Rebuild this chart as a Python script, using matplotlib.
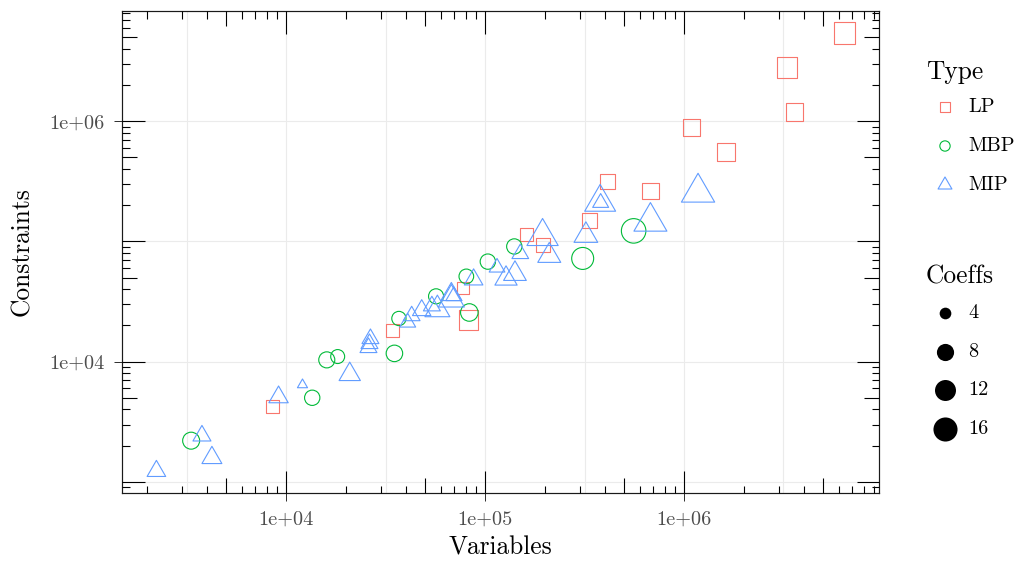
import numpy as np
import matplotlib
matplotlib.use("Agg")
import matplotlib.pyplot as plt
from matplotlib.path import Path
from matplotlib.collections import LineCollection
from matplotlib.ticker import FixedLocator, NullFormatter

# ---- data -----------------------------------------------------------------
lp_vars = [8560, 34070, 77450, 82330, 161600, 194500, 333700, 412400, 678100,
           1092000, 1622000, 3306000, 3589000, 6422000]
lp_cons = [4272, 18260, 41200, 22230, 113400, 93180, 148300, 314800, 265000,
           888300, 557200, 2805000, 1197000, 5437000]
lp_coef = [5.9, 5.9, 5.3, 13.2, 5.9, 6.8, 7.6, 7.1, 9.0, 10.3, 10.6, 14.4, 10.7, 16.7]

mbp_vars = [3325, 13510, 15990, 18140, 34990, 36860, 56680, 80460, 83290,
            103200, 140200, 309500, 558300]
mbp_cons = [2201, 5007, 10350, 11030, 11720, 22870, 34970, 51230, 25660,
            67990, 90880, 72260, 122500]
mbp_coef = [7.8, 6.4, 7.0, 5.4, 7.4, 5.6, 6.2, 5.9, 8.3, 6.4, 6.4, 13.2, 16.6]

mip_vars = [2224, 3768, 4229, 9149, 12070, 20860, 26510, 26210, 25910, 40800,
            42730, 47990, 53990, 57540, 67640, 69630, 67640, 87520, 114800, 127400,
            141300, 150300, 194500, 210200, 321200, 378900, 381100, 678100, 1177000]
mip_cons = [1229, 2417, 1585, 5065, 6419, 7832, 15520, 14110, 13070, 21190,
            24040, 26760, 29050, 27160, 36180, 35160, 32890, 48200, 60730, 49040,
            53740, 79060, 110000, 76090, 112100, 211900, 209900, 146300, 255600]
mip_coef = [5.3, 5.0, 6.0, 5.7, 2.4, 6.8, 4.5, 4.5, 4.5, 4.1,
            4.4, 5.2, 4.5, 9.3, 6.6, 4.1, 10.1, 5.3, 4.0, 7.4,
            7.7, 4.4, 14.8, 7.9, 8.4, 14.5, 4.1, 16.6, 16.9]

type_labels = ["LP", "MBP", "MIP"]
type_colors = ["#F8766D", "#00BA38", "#619CFF"]
coef_breaks = [4, 8, 12, 16]
coef_limits = (2, 17)

x_breaks = [1e4, 1e5, 1e6]
x_labels = ["1e+04", "1e+05", "1e+06"]
y_breaks = [1e4, 1e6]
y_labels = ["1e+04", "1e+06"]

# ---- style ----------------------------------------------------------------
plt.rcParams['font.family'] = 'serif'
plt.rcParams['font.serif'] = ['cmr10', 'DejaVu Serif']
plt.rcParams['axes.unicode_minus'] = False

DPI = 100
PT = 72.0 / DPI          # points per pixel
W, H = 1018, 563
AX_L, AX_R, AX_T, AX_B = 122, 879, 11, 493
AX_W, AX_H = AX_R - AX_L, AX_B - AX_T

# equilateral open triangle centred on its circumcentre
tri = Path([(0, 1), (-0.8660254, -0.5), (0.8660254, -0.5), (0, 1)],
           [Path.MOVETO, Path.LINETO, Path.LINETO, Path.CLOSEPOLY])
markers = ['s', 'o', tri]
shape_factor = [0.8862, 1.0, 1.555]   # marker extent relative to dot diameter


def dot_diameter_px(c):
    c = np.asarray(c, dtype=float)
    t = (c - coef_limits[0]) / (coef_limits[1] - coef_limits[0])
    return 4.13 * (1 + 5 * np.sqrt(np.clip(t, 0, 1)))


fig = plt.figure(figsize=(W / DPI, H / DPI), dpi=DPI)
ax = fig.add_axes([AX_L / W, 1 - AX_B / H, AX_W / W, AX_H / H])
ax.set_xscale('log')
ax.set_yscale('log')

series = [(lp_vars, lp_cons, lp_coef), (mbp_vars, mbp_cons, mbp_coef),
          (mip_vars, mip_cons, mip_coef)]
for (xv, yv, cv), mk, sf, col in zip(series, markers, shape_factor, type_colors):
    s = (dot_diameter_px(cv) * sf * PT) ** 2
    ax.scatter(xv, yv, s=s, marker=mk, facecolors='none', edgecolors=col,
               linewidths=0.8, zorder=3)

# limits: 5% expansion of the log range
all_x = np.log10(lp_vars + mbp_vars + mip_vars)
all_y = np.log10(lp_cons + mbp_cons + mip_cons)
for arr, setter in ((all_x, ax.set_xlim), (all_y, ax.set_ylim)):
    lo, hi = arr.min(), arr.max()
    pad = 0.05 * (hi - lo)
    setter(10 ** (lo - pad), 10 ** (hi + pad))

# grid: major at breaks, minor halfway between them in log space
ax.xaxis.set_major_locator(FixedLocator(x_breaks))
ax.yaxis.set_major_locator(FixedLocator(y_breaks))
ax.xaxis.set_minor_locator(FixedLocator([10 ** 3.5, 10 ** 4.5, 10 ** 5.5, 10 ** 6.5]))
ax.yaxis.set_minor_locator(FixedLocator([1e3, 1e5, 1e7]))
ax.xaxis.set_minor_formatter(NullFormatter())
ax.yaxis.set_minor_formatter(NullFormatter())
ax.set_xticklabels(x_labels)
ax.set_yticklabels(y_labels)
ax.set_axisbelow(True)
ax.grid(which='major', color='#EBEBEB', linewidth=0.8, zorder=0)
ax.grid(which='minor', color='#EBEBEB', linewidth=0.8, zorder=0)
ax.tick_params(which='major', direction='out', length=8 * PT, width=1.0 * PT,
               color='#333333', labelsize=14.6, labelcolor='#4D4D4D', pad=7)
ax.tick_params(which='minor', length=0)
for sp in ax.spines.values():
    sp.set_color('#1A1A1A')
    sp.set_linewidth(1.0 * PT * 1.2)

# log ticks drawn inside the panel on all four sides
def logtick_len(k):
    return 22.5 if k == 1 else (15.0 if k == 5 else 7.5)

xlo, xhi = ax.get_xlim()
ylo, yhi = ax.get_ylim()
segs_x, segs_y = [], []
for d in range(2, 8):
    for k in range(1, 10):
        v = k * 10.0 ** d
        L = logtick_len(k)
        if xlo <= v <= xhi:
            segs_x.append([(v, 0), (v, L / AX_H)])
            segs_x.append([(v, 1), (v, 1 - L / AX_H)])
        if ylo <= v <= yhi:
            segs_y.append([(0, v), (L / AX_W, v)])
            segs_y.append([(1, v), (1 - L / AX_W, v)])
ax.add_collection(LineCollection(segs_x, colors='black', linewidths=1.1 * PT,
                                 transform=ax.get_xaxis_transform(), zorder=4,
                                 clip_on=False))
ax.add_collection(LineCollection(segs_y, colors='black', linewidths=1.1 * PT,
                                 transform=ax.get_yaxis_transform(), zorder=4,
                                 clip_on=False))

ax.set_xlabel("Variables", fontsize=18.3, color='black')
ax.set_ylabel("Constraints", fontsize=18.3, color='black')
ax.xaxis.set_label_coords(0.5, (AX_B - 548) / AX_H)
ax.yaxis.set_label_coords((22 - AX_L) / AX_W, 0.5)
ax.xaxis.label.set_va('center')
ax.yaxis.label.set_va('center')

# ---- legends (drawn in figure pixel space) --------------------------------
lg = fig.add_axes([0, 0, 1, 1], zorder=5)
lg.set_xlim(0, W)
lg.set_ylim(H, 0)
lg.axis('off')

key_x, text_x, title_x = 945, 968, 926
lg.text(title_x, 72, "Type", fontsize=18.3, va='center', ha='left')
legend_d = 10.3
for i, (lab, mk, sf, col) in enumerate(zip(type_labels, markers, shape_factor, type_colors)):
    yy = 107 + 39 * i
    lg.scatter([key_x], [yy], s=(legend_d * sf * PT) ** 2, marker=mk,
               facecolors='none', edgecolors=col, linewidths=0.8)
    lg.text(text_x, yy, lab, fontsize=14.6, va='center', ha='left')

lg.text(title_x, 277, "Coeffs", fontsize=18.3, va='center', ha='left')
for i, b in enumerate(coef_breaks):
    yy = 313 + 38.6 * i
    lg.scatter([key_x], [yy], s=(dot_diameter_px(b) * PT) ** 2, marker='o',
               color='black', linewidths=0)
    lg.text(text_x, yy, str(b), fontsize=14.6, va='center', ha='left')

fig.savefig("out.png", dpi=DPI)
